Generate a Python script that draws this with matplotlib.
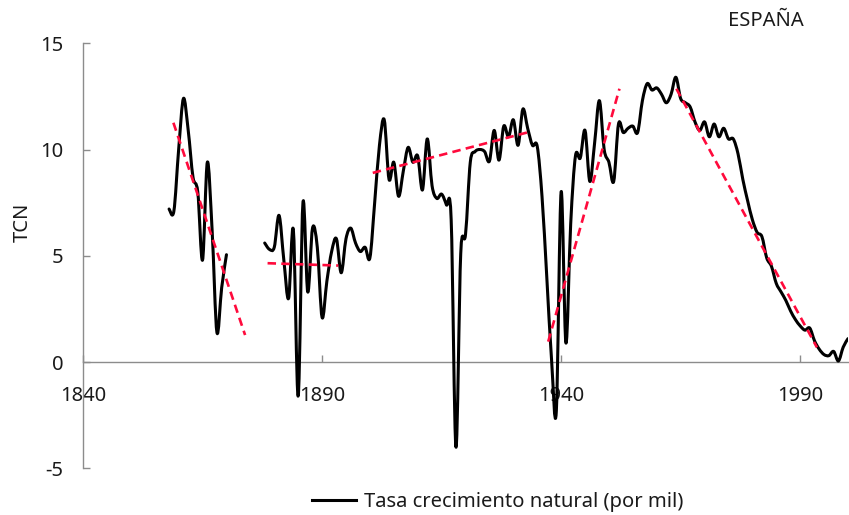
import matplotlib
matplotlib.use("Agg")
import matplotlib.pyplot as plt
from matplotlib.path import Path
from matplotlib.patches import PathPatch
from matplotlib.lines import Line2D

plt.rcParams['font.family'] = ['Noto Sans', 'DejaVu Sans']
plt.rcParams['axes.unicode_minus'] = False

# ---- data ----
years_a = list(range(1858, 1871))
tcn_a = [7.2, 7.1, 10.0, 12.4, 10.9, 8.7, 8.0, 4.8, 9.4, 6.2, 1.4, 3.5, 5.05]

years_b = list(range(1878, 2001))
tcn_b = [5.6, 5.3, 5.4, 6.9, 4.8, 3.0, 6.2, -1.6, 7.5, 3.3,          # 1878-1887
         6.3, 5.4, 2.1, 3.8, 5.2, 5.8, 4.2, 5.8, 6.3, 5.6,           # 1888-1897
         5.2, 5.4, 4.9, 7.5, 10.2, 11.4, 8.6, 9.4, 7.8, 9.0,         # 1898-1907
         10.1, 9.4, 9.7, 8.1, 10.5, 8.3, 7.7, 7.9, 7.4, 6.7,         # 1908-1917
         -4.0, 5.1, 6.0, 9.4, 9.9, 10.0, 9.9, 9.45, 10.9, 9.5,       # 1918-1927
         11.1, 10.6, 11.4, 10.2, 11.9, 11.0, 10.2, 10.15, 7.8, 4.0,  # 1928-1937
         0.1, -2.3, 8.0, 0.9, 6.5, 9.7, 9.6, 10.9, 8.5, 10.3,        # 1938-1947
         12.3, 10.0, 9.4, 8.5, 11.2, 10.8, 11.0, 11.1, 10.8, 12.3,   # 1948-1957
         13.1, 12.8, 12.9, 12.6, 12.2, 12.6, 13.4, 12.4, 12.2, 12.0, # 1958-1967
         11.3, 10.9, 11.3, 10.6, 11.2, 10.6, 11.0, 10.5, 10.5, 9.8,  # 1968-1977
         8.6, 7.6, 6.7, 6.1, 5.9, 4.9, 4.5, 3.7, 3.3, 2.9,           # 1978-1987
         2.4, 2.0, 1.7, 1.5, 1.6, 1.0, 0.6, 0.35, 0.3, 0.5,          # 1988-1997
         0.05, 0.7, 1.1]                                            # 1998-2000

# linear trend segments (start year, start value, end year, end value)
trend_x0 = [1858.9, 1878.6, 1900.6, 1937.3, 1964.1]
trend_y0 = [11.26, 4.65, 8.9, 0.96, 12.86]
trend_x1 = [1873.9, 1893.4, 1933.4, 1952.2, 1993.5]
trend_y1 = [1.27, 4.54, 10.83, 12.86, 0.69]

x_ticks = [1840, 1890, 1940, 1990]
y_ticks = [-5, 0, 5, 10, 15]

series_label = "Tasa crecimiento natural (por mil)"
title = "ESPAÑA"
ylabel = "TCN"


def smooth_path(xs, ys):
    """Smoothed (Catmull-Rom style) Bezier path through the data points."""
    n = len(xs)
    verts = [(xs[0], ys[0])]
    codes = [Path.MOVETO]
    for i in range(n - 1):
        p0 = i - 1 if i > 0 else i
        p3 = i + 2 if i + 2 < n else i + 1
        c1 = (xs[i] + (xs[i + 1] - xs[p0]) / 6.0, ys[i] + (ys[i + 1] - ys[p0]) / 6.0)
        c2 = (xs[i + 1] - (xs[p3] - xs[i]) / 6.0, ys[i + 1] - (ys[p3] - ys[i]) / 6.0)
        verts += [c1, c2, (xs[i + 1], ys[i + 1])]
        codes += [Path.CURVE4] * 3
    return Path(verts, codes)


fig = plt.figure(figsize=(8.49, 5.15), dpi=100)
ax = fig.add_axes([0.0978, 0.0907, 0.9010, 0.8253])

line_kw = dict(color='black', lw=2.2, capstyle='round', joinstyle='round')
for xs, ys in [(years_a, tcn_a), (years_b, tcn_b)]:
    ax.add_patch(PathPatch(smooth_path(xs, ys), fill=False, zorder=3, **line_kw))

for xa, ya, xb, yb in zip(trend_x0, trend_y0, trend_x1, trend_y1):
    ax.plot([xa, xb], [ya, yb], color='#FF0A3C', lw=1.9,
            dashes=(3.2, 2.0), zorder=4)

ax.set_xlim(1840, 2000)
ax.set_ylim(-5, 15)

ax.spines['top'].set_visible(False)
ax.spines['right'].set_visible(False)
ax.spines['bottom'].set_position(('data', 0))
for s in ('left', 'bottom'):
    ax.spines[s].set_color('#8c8c8c')
    ax.spines[s].set_linewidth(1.0)

ax.set_xticks(x_ticks)
ax.set_yticks(y_ticks)
ax.tick_params(axis='x', direction='in', length=5, width=1.0, color='#8c8c8c',
               pad=17, labelsize=14.5, labelcolor='#1a1a1a')
ax.tick_params(axis='y', direction='in', length=5, width=1.0, color='#8c8c8c',
               pad=14, labelsize=14.5, labelcolor='#1a1a1a')

fig.text(23 / 849, 1 - 222 / 515, ylabel, rotation=90, ha='center', va='center',
         fontsize=14.5, color='#1a1a1a')
fig.text(766 / 849, 1 - 21 / 515, title, ha='center', va='center',
         fontsize=14.5, color='#1a1a1a')

handle = Line2D([], [], color='black', lw=2.2)
fig.legend([handle], [series_label], loc='center', bbox_to_anchor=(0.586, 0.025),
           frameon=False, fontsize=14.5, handlelength=2.2, handletextpad=0.35,
           labelcolor='#1a1a1a')

fig.savefig('out.png', dpi=100)
